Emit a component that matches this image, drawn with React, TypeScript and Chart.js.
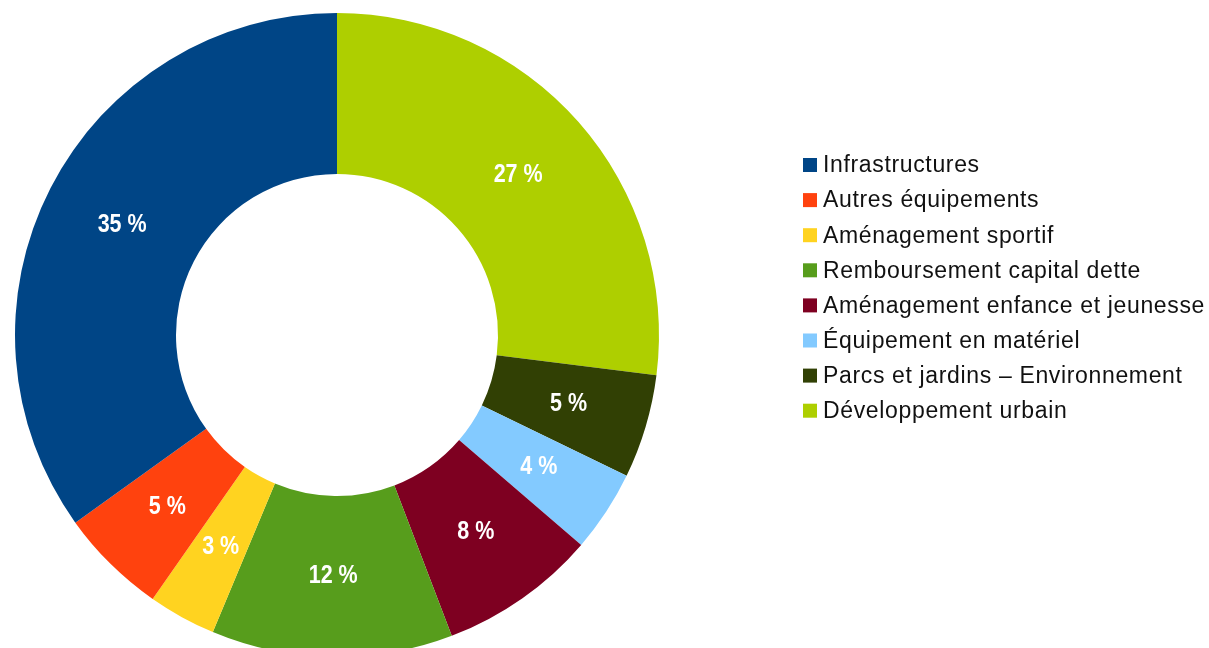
import React, { useEffect, useRef } from "react";
import { Chart, registerables } from "chart.js";

Chart.register(...registerables);

// Legend order (as shown in the reference legend)
const categories: string[] = [
  "Infrastructures",
  "Autres équipements",
  "Aménagement sportif",
  "Remboursement capital dette",
  "Aménagement enfance et jeunesse",
  "Équipement en matériel",
  "Parcs et jardins – Environnement",
  "Développement urbain",
];

const shares: number[] = [34.9, 5.4, 3.4, 12.1, 7.9, 4.1, 5.2, 27.0];

const colors: string[] = [
  "#004586",
  "#ff420e",
  "#ffd320",
  "#579d1c",
  "#7e0021",
  "#83caff",
  "#314004",
  "#aecf00",
];

const W = 1209;
const H = 670;

export default function App() {
  const ref = useRef<HTMLCanvasElement | null>(null);

  useEffect(() => {
    document.body.style.margin = "0";
    document.body.style.overflow = "hidden";
    const canvas = ref.current;
    if (!canvas) return;

    // The reference runs counter-clockwise from the top; Chart.js runs clockwise,
    // so feed the slices in reverse order.
    const dsLabels = [...categories].reverse();
    const dsData = [...shares].reverse();
    const dsColors = [...colors].reverse();

    const valueLabels = {
      id: "valueLabels",
      afterDatasetsDraw(chart: any) {
        const ctx = chart.ctx;
        const meta = chart.getDatasetMeta(0);
        meta.data.forEach((arc: any, i: number) => {
          const p = arc.tooltipPosition();
          const v = chart.data.datasets[0].data[i] as number;
          ctx.save();
          ctx.fillStyle = "#ffffff";
          ctx.font = "bold 25px 'Liberation Sans', Arial, sans-serif";
          ctx.textAlign = "center";
          ctx.textBaseline = "middle";
          ctx.translate(p.x, p.y);
          ctx.scale(0.86, 1);
          ctx.fillText(`${Math.round(v)} %`, 0, 0);
          ctx.restore();
        });
      },
    };

    const sideLegend = {
      id: "sideLegend",
      afterDraw(chart: any) {
        const ctx = chart.ctx;
        ctx.save();
        ctx.font = "23px 'Liberation Sans', Arial, sans-serif";
        try {
          (ctx as any).letterSpacing = "0.65px";
        } catch (e) {
          /* ignore */
        }
        ctx.textBaseline = "middle";
        ctx.textAlign = "left";
        const x0 = 803;
        const y0 = 165;
        const step = 35.1;
        const box = 14;
        categories.forEach((name, i) => {
          const cy = y0 + i * step;
          ctx.fillStyle = colors[i];
          ctx.fillRect(x0, cy - box / 2, box, box);
          ctx.fillStyle = "#111111";
          ctx.fillText(name, x0 + 20, cy + 1);
        });
        ctx.restore();
      },
    };

    const chart = new Chart(canvas, {
      type: "doughnut",
      data: {
        labels: dsLabels,
        datasets: [
          {
            data: dsData,
            backgroundColor: dsColors,
            borderWidth: 0,
          },
        ],
      },
      options: {
        responsive: false,
        animation: false,
        cutout: "50%",
        layout: {
          padding: { left: 15, top: 13, right: W - 659, bottom: H - 657 },
        },
        plugins: {
          legend: { display: false },
          tooltip: { enabled: false },
        },
      },
      plugins: [valueLabels, sideLegend],
    });

    return () => chart.destroy();
  }, []);

  return (
    <div style={{ width: W, height: H }}>
      <canvas ref={ref} width={W} height={H} style={{ display: "block" }} />
    </div>
  );
}
